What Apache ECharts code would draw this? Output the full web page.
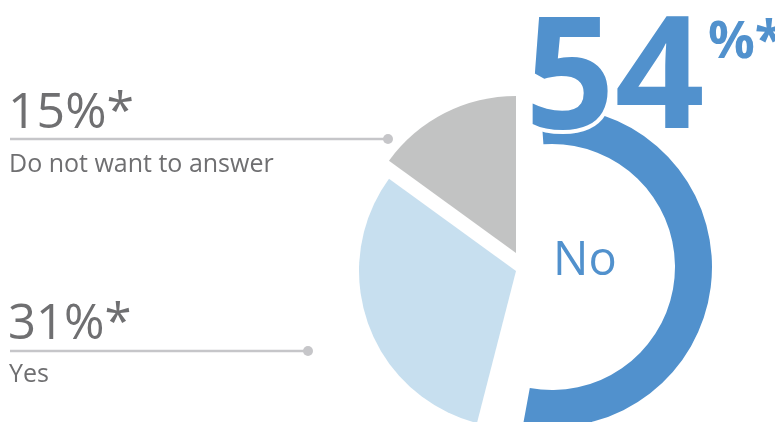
<!DOCTYPE html>
<html>
<head>
<meta charset="utf-8">
<script src="https://cdn.jsdelivr.net/npm/echarts@6/dist/echarts.min.js"></script>
<style>
  html, body { margin: 0; padding: 0; background: #ffffff; }
  #chart { width: 775px; height: 422px; }
</style>
</head>
<body>
<div id="chart"></div>
<script>
// Survey answers, clockwise from 12 o'clock
const categories = ['No', 'Yes', 'Do not want to answer'];
const shares = [54, 31, 15];
const sliceColors = ['#5191cd', '#c7dfef', '#c2c3c3'];

const FONT = '"Open Sans", "Noto Sans", sans-serif';
const GREY_TEXT = '#6f6f71';
const LEADER = '#c6c6c9';

// One pie per highlighted answer: the same data in each, the other answers left transparent
function sliceSeries(showIndex, center, radius, startAngle) {
  return {
    type: 'pie',
    silent: true,
    animation: false,
    center: center,
    radius: radius,
    startAngle: startAngle,
    clockwise: true,
    label: { show: false },
    labelLine: { show: false },
    itemStyle: { borderWidth: 0 },
    data: categories.map((name, i) => ({
      name: name,
      value: shares[i],
      itemStyle: { color: i === showIndex ? sliceColors[i] : 'rgba(0,0,0,0)' }
    }))
  };
}

const chart = echarts.init(document.getElementById('chart'), null, { renderer: 'canvas' });

const graphic = [
  // "Do not want to answer" callout
  { type: 'line', z: 10, shape: { x1: 10, y1: 139, x2: 388, y2: 139 }, style: { stroke: LEADER, lineWidth: 2.5 } },
  { type: 'circle', z: 10, shape: { cx: 388, cy: 139, r: 5 }, style: { fill: LEADER } },
  { type: 'text', z: 10, x: 8, y: 114, style: { text: shares[2] + '%*', font: '400 50px ' + FONT, fill: GREY_TEXT, verticalAlign: 'middle', align: 'left' } },
  { type: 'text', z: 10, x: 9, y: 165, style: { text: categories[2], font: '400 25px ' + FONT, fill: GREY_TEXT, verticalAlign: 'middle', align: 'left' } },
  // "Yes" callout
  { type: 'line', z: 10, shape: { x1: 10, y1: 351, x2: 308, y2: 351 }, style: { stroke: LEADER, lineWidth: 2.5 } },
  { type: 'circle', z: 10, shape: { cx: 308, cy: 351, r: 5 }, style: { fill: LEADER } },
  { type: 'text', z: 10, x: 8, y: 325, style: { text: shares[1] + '%*', font: '400 49px ' + FONT, fill: GREY_TEXT, verticalAlign: 'middle', align: 'left' } },
  { type: 'text', z: 10, x: 9, y: 375, style: { text: categories[1], font: '400 25px ' + FONT, fill: GREY_TEXT, verticalAlign: 'middle', align: 'left' } },
  // "No" headline figure
  { type: 'text', z: 20, x: 525, y: 83, style: { text: String(shares[0]), font: '700 157px ' + FONT, fill: sliceColors[0], stroke: '#ffffff', lineWidth: 8, strokeFirst: true, verticalAlign: 'middle', align: 'left' } },
  { type: 'text', z: 20, x: 708, y: 43, style: { text: '%*', font: '700 52px ' + FONT, fill: sliceColors[0], verticalAlign: 'middle', align: 'left' } },
  { type: 'text', z: 20, x: 553, y: 262, style: { text: categories[0], font: '400 47px ' + FONT, fill: sliceColors[0], verticalAlign: 'middle', align: 'left' } }
];

chart.setOption({
  animation: false,
  backgroundColor: '#ffffff',
  graphic: graphic,
  series: [
    sliceSeries(0, [552, 267], [123, 160], 94),
    sliceSeries(1, [516, 271], [0, 157], 90),
    sliceSeries(2, [516, 253], [0, 157], 90)
  ]
});
</script>
</body>
</html>
